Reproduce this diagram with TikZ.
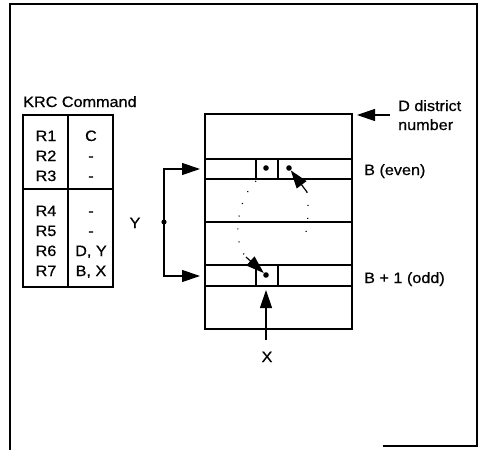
\documentclass[tikz,border=0pt]{standalone}
\usepackage{fontspec}
\setmainfont{Liberation Sans}[FakeStretch=1.08,FakeBold=0.6]
\usetikzlibrary{arrows.meta}

\tikzset{
  bigarrow/.style={-{Triangle[length=18pt,width=12pt]}, line width=1.2pt},
  lbl/.style={anchor=base, inner sep=0pt, font=\fontsize{15}{18}\selectfont},
  cellline/.style={line width=1.1pt},
  linkpath/.style={line width=1.2pt, dash pattern=on 1pt off 12pt}
}

\begin{document}
\begin{tikzpicture}[x=1pt,y=-1pt]
    \useasboundingbox (0,0) rectangle (483,450);

    % Outer frame
    \draw[line width=2.4pt] (383,446) -| (477,4) -| (10,450);

    % KRC command table
    \node[lbl, anchor=base west] (krc) at (23,107) {KRC Command};
    \draw[cellline] (23,115) rectangle (113,287);
    \draw[cellline] (68,115) -- (68,287);
    \draw[cellline] (23,189) -- (113,189);
    \foreach \n/\v/\y in {1/C/141, 2/-/161, 3/-/181, 4/-/216, 5/-/236, 6/{D, Y}/256, 7/{B, X}/276} {
        \node[lbl] (r\n) at (46,\y) {R\n};
        \node[lbl] (v\n) at (91,\y) {\v};
    }

    % District block
    \draw[cellline] (205,114) rectangle (352,329);
    \foreach \y in {159, 179, 222, 265, 286} {
        \draw[cellline] (205,\y) -- (352,\y);
    }
    \draw[cellline] (256,159) -- (256,179) (278,159) -- (278,179);
    \draw[cellline] (256,265) -- (256,286) (278,265) -- (278,286);

    % Labels on the right
    \node[lbl, anchor=base west] (dname) at (398,111) {D district};
    \node[lbl, anchor=base west] (dnum) at (398,130) {number};
    \node[lbl, anchor=base west] (beven) at (364,175) {B (even)};
    \node[lbl, anchor=base west] (bodd) at (364,283) {B + 1 (odd)};

    % Pointer dots
    \coordinate (bleft) at (266,168);
    \coordinate (bright) at (289,168);
    \coordinate (odot) at (266,275);
    \foreach \p in {bleft, bright, odot} {
        \fill (\p) circle (2.8pt);
    }

    % Links between B and B + 1
    \coordinate (rtail) at (307,192);
    \coordinate (ltail) at (246,257);
    \draw[bigarrow, shorten >=3pt] (rtail) -- (bright);
    \draw[bigarrow, shorten >=3pt] (ltail) -- (odot);
    \draw[linkpath] (256,181) .. controls (238,198) and (231,240) .. (ltail);
    \draw[linkpath] (rtail) .. controls (309,208) and (308,226) .. (305,236);

    % Y fork
    \node[lbl] (ylab) at (135,228) {Y};
    \coordinate (yfork) at (164,222);
    \coordinate (ytop) at (200,169);
    \coordinate (ybot) at (200,276);
    \draw[bigarrow] (yfork) |- (ytop);
    \draw[bigarrow] (yfork) |- (ybot);
    \fill (yfork) circle (2.6pt);

    % X arrow
    \node[lbl] (xlab) at (267,362) {X};
    \coordinate (xtail) at (266,340);
    \coordinate (xtip) at (266,290);
    \draw[bigarrow] (xtail) -- (xtip);

    % District arrow
    \coordinate (dtail) at (390,115);
    \coordinate (dtip) at (357,115);
    \draw[bigarrow] (dtail) -- (dtip);
\end{tikzpicture}
\end{document}
